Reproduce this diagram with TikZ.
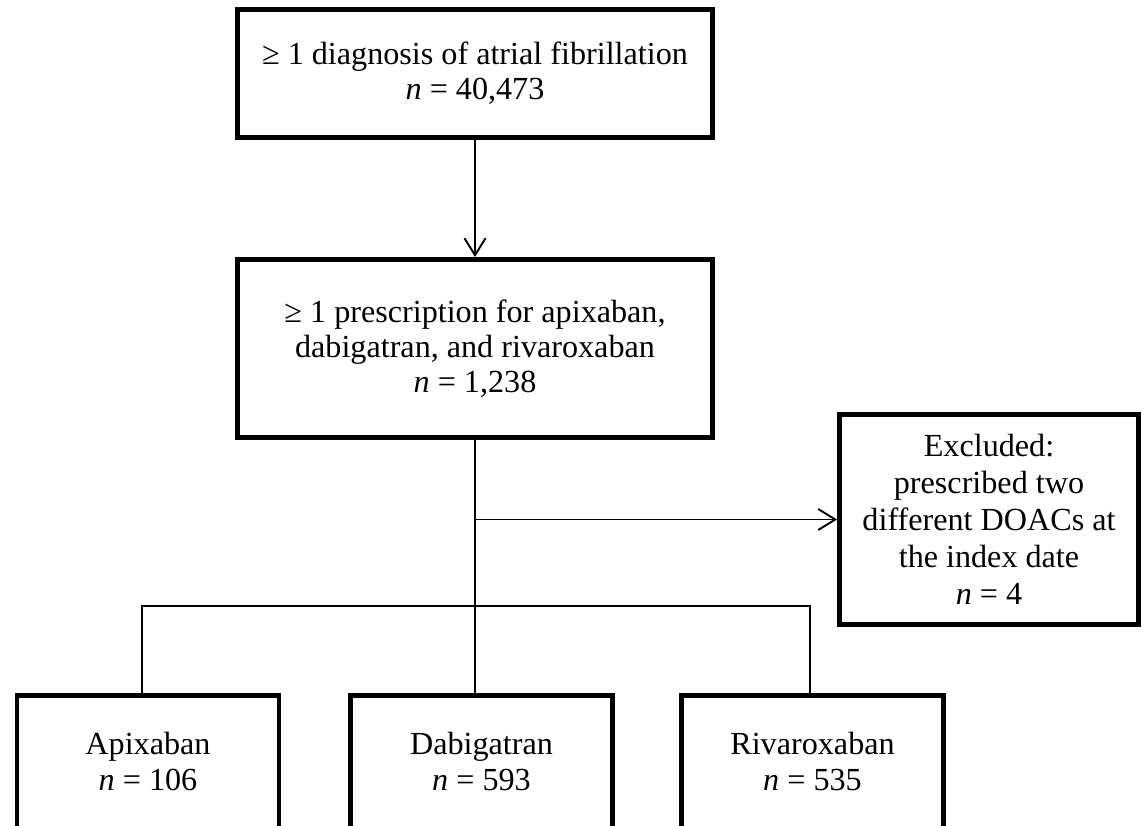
\documentclass[tikz,border=0pt]{standalone}
\usepackage{fontspec}
\setmainfont{Liberation Serif}
\usetikzlibrary{arrows.meta,positioning,calc}

\begin{document}
\begin{tikzpicture}[
    box/.style={draw, rectangle, line width=2.8pt, align=center,
        font=\fontsize{18.3}{20}\selectfont},
    arm/.style={draw, rectangle, line width=2.8pt, align=center,
        minimum width=5.24cm, minimum height=2.65cm,
        font=\fontsize{18.3}{20.5}\selectfont},
    link/.style={line width=1.1pt},
    branch/.style={line width=0.8pt},
    >={Straight Barb[length=0.34cm,width=0.42cm,line width=1.1pt]}
]
\useasboundingbox (0,0) rectangle (22.9,16.52);

% Cohort selection
\node[box, minimum width=9.5cm, minimum height=2.56cm] (diag) at (9.5,15.05)
    {≥ 1 diagnosis of atrial fibrillation\\\textit{n} = 40,473};
\node[box, minimum width=9.5cm, minimum height=3.56cm] (presc) at (9.5,9.55)
    {≥ 1 prescription for apixaban,\\dabigatran, and rivaroxaban\\\textit{n} = 1,238};

% Exclusion
\node[box, minimum width=5.98cm, minimum height=4.2cm,
    font=\fontsize{18.3}{21}\selectfont] (excl) at (19.78,6.13)
    {Excluded:\\prescribed two\\different DOACs at\\the index date\\\textit{n} = 4};

% Treatment groups
\node[arm] (apix) at (2.96,1.285) {Apixaban\\\textit{n} = 106};
\node[arm] (dabi) at (9.63,1.285) {Dabigatran\\\textit{n} = 593};
\node[arm] (riva) at (16.25,1.285) {Rivaroxaban\\\textit{n} = 535};

\draw[link,->] (diag) -- (presc);
\draw[link] (presc.south) -- (presc.south |- dabi.north);
\draw[link,->] (presc.south |- excl.west) -- (excl.west);

\coordinate (split) at (9.5,4.4);
\draw[branch] ([xshift=-0.12cm]apix.north) |- (split) -| ([xshift=-0.05cm]riva.north);
\end{tikzpicture}
\end{document}
